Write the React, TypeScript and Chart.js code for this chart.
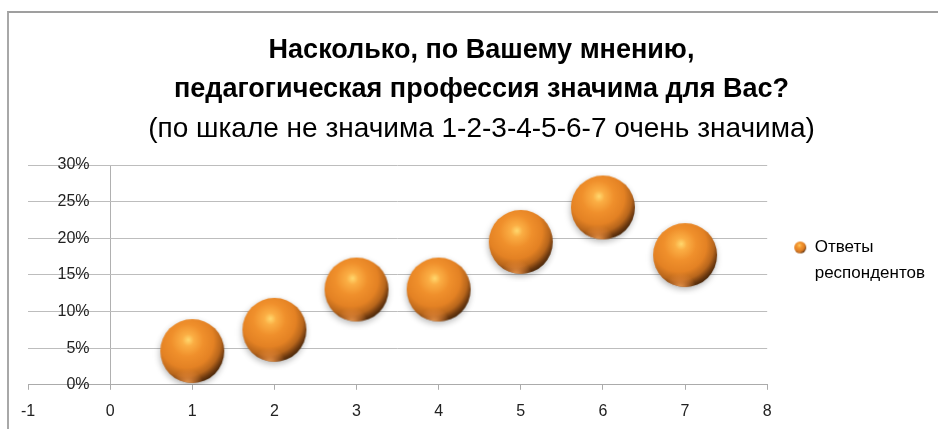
import React, { useEffect, useRef } from "react";
import { Chart, registerables } from "chart.js";

Chart.register(...registerables);

const titleLines = ["Насколько, по Вашему мнению,", "педагогическая профессия значима для Вас?"];
const subtitleText = "(по шкале не значима 1-2-3-4-5-6-7 очень значима)";
const seriesName = ["Ответы", "респондентов"];
const xValues = [1, 2, 3, 4, 5, 6, 7];
const yValues = [0.046, 0.075, 0.13, 0.13, 0.195, 0.242, 0.177];
const xMin = -1;
const xMax = 8;
const yMin = 0;
const yMax = 0.3;
const yStep = 0.05;
const yAxisCrossX = 0;

const FONT = '"Liberation Sans", Arial, sans-serif';

function makeSphere(r: number, withShadow: boolean): HTMLCanvasElement {
  const pad = withShadow ? Math.ceil(r * 0.25) : 1;
  const size = Math.ceil(r * 2 + pad * 2);
  const c = document.createElement("canvas");
  c.width = size;
  c.height = size;
  const ctx = c.getContext("2d")!;
  const cx = size / 2;
  const cy = size / 2;
  ctx.save();
  if (withShadow) {
    ctx.shadowColor = "rgba(0,0,0,0.28)";
    ctx.shadowBlur = r * 0.2;
    ctx.shadowOffsetY = r * 0.08;
    ctx.shadowOffsetX = -r * 0.02;
  }
  const g = ctx.createRadialGradient(cx - r * 0.12, cy - r * 0.35, r * 0.02, cx - r * 0.22, cy - r * 0.3, r * 1.4);
  g.addColorStop(0, "#FFD46A");
  g.addColorStop(0.12, "#FBAE44");
  g.addColorStop(0.35, "#F0902C");
  g.addColorStop(0.6, "#E48224");
  g.addColorStop(0.78, "#B8661C");
  g.addColorStop(0.9, "#6E3A10");
  g.addColorStop(1, "#3E2006");
  ctx.fillStyle = g;
  ctx.beginPath();
  ctx.arc(cx, cy, r, 0, Math.PI * 2);
  ctx.fill();
  ctx.restore();
  ctx.save();
  ctx.beginPath();
  ctx.arc(cx, cy, r, 0, Math.PI * 2);
  ctx.clip();
  const rg = ctx.createRadialGradient(cx - r * 0.15, cy + r * 1.05, 0, cx - r * 0.15, cy + r * 1.05, r * 0.5);
  rg.addColorStop(0, "rgba(255,170,90,0.95)");
  rg.addColorStop(0.5, "rgba(240,145,65,0.5)");
  rg.addColorStop(1, "rgba(240,145,65,0)");
  ctx.fillStyle = rg;
  ctx.fillRect(0, 0, size, size);
  ctx.restore();
  return c;
}

export default function App() {
  const canvasRef = useRef<HTMLCanvasElement | null>(null);

  useEffect(() => {
    if (!canvasRef.current) return;
    const bigSphere = makeSphere(32, true);
    const smallSphere = makeSphere(6, false);
    const chart = new Chart(canvasRef.current, {
      type: "scatter",
      data: {
        datasets: [
          {
            label: seriesName.join(" "),
            data: xValues.map((x, i) => ({ x, y: yValues[i] })),
            pointStyle: bigSphere as any,
            pointRadius: 32,
            pointHoverRadius: 32,
            backgroundColor: "#F28C24",
          },
        ],
      },
      options: {
        animation: false,
        responsive: false,
        maintainAspectRatio: false,
        layout: { autoPadding: false, padding: { left: 28, right: 3, top: 0, bottom: -4 } },
        plugins: {
          tooltip: { enabled: false },
          title: {
            display: true,
            text: titleLines,
            color: "#000",
            font: { family: FONT, size: 27, weight: "bold", lineHeight: 39 / 27 },
            padding: { top: 31, bottom: 0 },
          },
          subtitle: {
            display: true,
            text: subtitleText,
            color: "#000",
            font: { family: FONT, size: 28, weight: "normal", lineHeight: 39 / 28 },
            padding: { top: 1, bottom: 16 },
          },
          legend: {
            display: true,
            position: "right",
            align: "center",
            title: { display: true, text: "", padding: { top: 43, bottom: 44 }, font: { size: 10, lineHeight: 1 } },
            labels: {
              usePointStyle: true,
              boxWidth: 12,
              boxHeight: 12,
              padding: 27,
              color: "#000",
              font: { family: FONT, size: 17, lineHeight: 1.53 },
              generateLabels: () => [
                {
                  text: seriesName as any,
                  pointStyle: smallSphere as any,
                  fillStyle: "#F28C24",
                  strokeStyle: "rgba(0,0,0,0)",
                  lineWidth: 0,
                  hidden: false,
                  datasetIndex: 0,
                  fontColor: "#000",
                } as any,
              ],
            },
          },
        },
        scales: {
          x: {
            type: "linear",
            position: "bottom",
            min: xMin,
            max: xMax,
            grid: {
              drawOnChartArea: true,
              drawTicks: true,
              tickLength: 5,
              color: (c: any) => (c.tick && c.tick.value === yAxisCrossX ? "#b0b0b0" : "rgba(0,0,0,0)"),
              tickColor: "#ababab",
            },
            border: { display: true, color: "#ababab", width: 1 },
            ticks: {
              stepSize: 1,
              padding: 12,
              color: "#222",
              font: { family: FONT, size: 16 },
            },
          },
          y: {
            type: "linear",
            position: { x: -0.25 } as any,
            min: yMin,
            max: yMax,
            grid: { drawTicks: false, tickLength: 0, color: "#bdbdbd" },
            border: { display: false },
            ticks: {
              stepSize: yStep,
              padding: 0,
              color: "#222",
              font: { family: FONT, size: 16 },
              callback: (v: any) => Math.round(Number(v) * 100) + "%",
            },
          },
        },
      },
    });
    return () => chart.destroy();
  }, []);

  return (
    <div style={{ position: "fixed", left: 0, top: 0, width: 938, height: 429, background: "#fff", overflow: "hidden" }}>
      <div
        style={{
          position: "absolute",
          left: 7,
          top: 11,
          width: 1200,
          height: 1000,
          borderTop: "2px solid #9f9f9f",
          borderLeft: "2px solid #a8a8a8",
        }}
      />
      <canvas ref={canvasRef} width={938} height={429} style={{ position: "absolute", left: 0, top: 0 }} />
    </div>
  );
}
